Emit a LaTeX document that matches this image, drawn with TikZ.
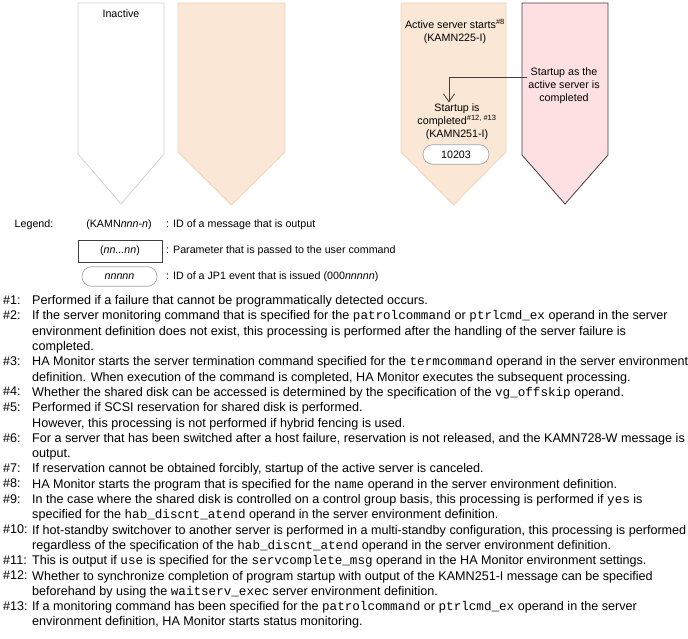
\documentclass[tikz,border=0pt]{standalone}
\usepackage{fontspec}
\setmainfont{Liberation Sans}
\setmonofont{Liberation Mono}
\usetikzlibrary{arrows.meta,positioning}

\definecolor{peachfill}{RGB}{250,231,213}
\definecolor{peachline}{RGB}{240,212,184}
\definecolor{pinkfill}{RGB}{255,224,226}
\definecolor{laneline}{RGB}{64,64,64}

\newcommand\figfont{\fontsize{10.7}{12.8}\selectfont}
\newcommand\notefont{\fontsize{12.6}{15.3}\selectfont}

\begin{document}
\begin{tikzpicture}[
  x=1pt, y=-1pt,
  font=\figfont,
  lane/.style={line width=.8pt, line join=miter},
  lbl/.style={inner sep=1pt, align=center},
  event/.style={draw=gray!70, fill=white, rounded corners=9.5pt, minimum height=19.5pt,
    inner sep=1pt, line width=.7pt},
  param/.style={draw=laneline, minimum width=84pt, minimum height=22pt, inner sep=1pt,
    line width=.8pt},
  flow/.style={-{Straight Barb[length=8pt, width=11pt]}, draw=laneline, line width=.8pt},
  notelbl/.style={anchor=north west, inner sep=0pt, font=\notefont},
  notetext/.style={anchor=north west, inner sep=0pt, align=left, font=\notefont}
]
\useasboundingbox (0,0) rectangle (688,639);

% lanes
\draw[lane, draw=gray!35, fill=white] (78,3) -- (164,3) -- (164,154) -- (121,204) -- (78,154) -- cycle;
\draw[lane, draw=peachline, fill=peachfill] (178,3) -- (285,3) -- (285,152) -- (231.5,205) -- (178,152) -- cycle;
\draw[lane, draw=peachline, fill=peachfill] (401,3) -- (506,3) -- (506,152) -- (453.5,205) -- (401,152) -- cycle;
\draw[lane, draw=laneline, fill=pinkfill] (522,3) -- (608,3) -- (608,155) -- (565,204) -- (522,155) -- cycle;

% texts in the lanes
\node[lbl] (inact) at (121,14) {Inactive};
\node[lbl] (actstart) at (455,31.5) {Active server starts\textsuperscript{\#8}\\(KAMN225-I)};
\node[lbl] (actsrv) at (564,85.5) {Startup as the\\active server is\\completed};
\node[lbl] (done) at (457,121.5) {Startup is\\completed\textsuperscript{\#12, \#13}\\(KAMN251-I)};
\node[event, minimum width=66pt] (ev) at (456,154.5) {10203};
\draw[flow] ([yshift=8.5pt]actsrv.west) -| ([xshift=-8pt]done.north);

% legend
\node[lbl] (leg) at (34,225) {Legend:};
\node[lbl] (msgid) at (119,225) {(KAMN\textit{nnn}-\textit{n})};
\node[lbl, anchor=west] (msgtxt) at (165,225) {: ID of a message that is output};
\node[param] (prm) at (120,251) {(\textit{nn...nn})};
\node[lbl, anchor=west] (prmtxt) at (165,251) {: Parameter that is passed to the user command};
\node[event, minimum width=75pt] (evleg) at (119.5,276.5) {\textit{nnnnn}};
\node[lbl, anchor=west] (evtxt) at (165,276.5) {: ID of a JP1 event that is issued (000\textit{nnnnn})};

% notes
\foreach \k/\y in {1/295.3, 2/310.6, 3/356.5, 4/387.1, 5/402.4, 6/433, 7/463.6,
    8/478.9, 9/494.2, 10/524.8, 11/555.4, 12/570.7, 13/601.3}
  \node[notelbl] (h\k) at (3,\y) {\#\k:};

\node[notetext] (n1) at (32,295.3) {Performed if a failure that cannot be programmatically detected occurs.};
\node[notetext] (n2) at (32,310.6) {If the server monitoring command that is specified for the \texttt{patrolcommand} or \texttt{ptrlcmd\_ex} operand in the server\\
  environment definition does not exist, this processing is performed after the handling of the server failure is\\
  completed.};
\node[notetext] (n3) at (32,356.5) {HA Monitor starts the server termination command specified for the \texttt{termcommand} operand in the server environment\\
  definition. When execution of the command is completed, HA Monitor executes the subsequent processing.};
\node[notetext] (n4) at (32,387.1) {Whether the shared disk can be accessed is determined by the specification of the \texttt{vg\_offskip} operand.};
\node[notetext] (n5) at (32,402.4) {Performed if SCSI reservation for shared disk is performed.\\
  However, this processing is not performed if hybrid fencing is used.};
\node[notetext] (n6) at (32,433) {For a server that has been switched after a host failure, reservation is not released, and the KAMN728-W message is\\
  output.};
\node[notetext] (n7) at (32,463.6) {If reservation cannot be obtained forcibly, startup of the active server is canceled.};
\node[notetext] (n8) at (32,478.9) {HA Monitor starts the program that is specified for the \texttt{name} operand in the server environment definition.};
\node[notetext] (n9) at (32,494.2) {In the case where the shared disk is controlled on a control group basis, this processing is performed if \texttt{yes} is\\
  specified for the \texttt{hab\_discnt\_atend} operand in the server environment definition.};
\node[notetext] (n10) at (32,524.8) {If hot-standby switchover to another server is performed in a multi-standby configuration, this processing is performed\\
  regardless of the specification of the \texttt{hab\_discnt\_atend} operand in the server environment definition.};
\node[notetext] (n11) at (32,555.4) {This is output if \texttt{use} is specified for the \texttt{servcomplete\_msg} operand in the HA Monitor environment settings.};
\node[notetext] (n12) at (32,570.7) {Whether to synchronize completion of program startup with output of the KAMN251-I message can be specified\\
  beforehand by using the \texttt{waitserv\_exec} server environment definition.};
\node[notetext] (n13) at (32,601.3) {If a monitoring command has been specified for the \texttt{patrolcommand} or \texttt{ptrlcmd\_ex} operand in the server\\
  environment definition, HA Monitor starts status monitoring.};
\end{tikzpicture}
\end{document}
